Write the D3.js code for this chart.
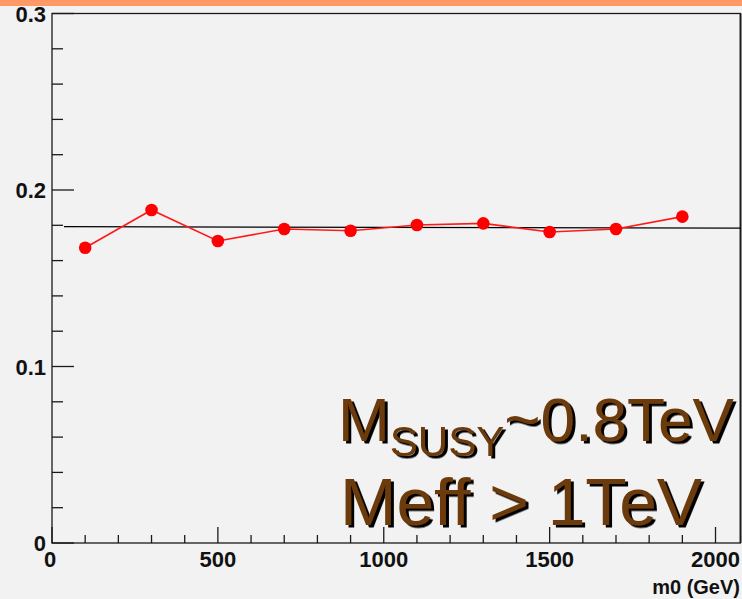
<!DOCTYPE html>
<html>
<head>
<meta charset="utf-8">
<script src="https://cdn.jsdelivr.net/npm/d3@7"></script>
<style>
  html, body { margin: 0; padding: 0; background: #f2f2f2; }
  svg { display: block; }
</style>
</head>
<body>
<script>
// ---- data ----
const m0Values = [100, 300, 500, 700, 900, 1100, 1300, 1500, 1700, 1900];
const ratioValues = [0.1673, 0.1887, 0.1711, 0.1779, 0.1769, 0.1802, 0.1811, 0.1762, 0.1779, 0.1849];
const fitX = [36, 2075];
const fitY = [0.1792, 0.1784];
const xTickLabels = [0, 500, 1000, 1500, 2000];
const yTickLabels = [0, 0.1, 0.2, 0.3];
const xDomain = [0, 2075];
const yDomain = [0, 0.3];

const W = 742, H = 599;
const L = 52, R = 740.4, T = 13.5, B = 543;

const svg = d3.select("body").append("svg").attr("width", W).attr("height", H);
svg.append("rect").attr("width", W).attr("height", H).attr("fill", "#f2f2f2");

const defs = svg.append("defs");
const f = defs.append("filter").attr("id", "shadow")
  .attr("x", "-5%").attr("y", "-5%").attr("width", "115%").attr("height", "120%");
f.append("feDropShadow").attr("dx", 3).attr("dy", 2.5).attr("stdDeviation", 0.3)
  .attr("flood-color", "#000").attr("flood-opacity", 1);

const x = d3.scaleLinear().domain(xDomain).range([L, R]);
const y = d3.scaleLinear().domain(yDomain).range([B, T]);

// frame
svg.append("rect").attr("x", R - 1).attr("y", T).attr("width", 2.6).attr("height", B - T)
  .attr("fill", "#8a8a8a");
svg.append("rect").attr("x", L).attr("y", T).attr("width", R - L).attr("height", B - T)
  .attr("fill", "none").attr("stroke", "#1a1a1a").attr("stroke-width", 1.3);

// axes ticks
const xMajor = d3.range(0, 2001, 500);
const xMinor = d3.range(0, 2075, 100).filter(v => v % 500 !== 0);
const yMajor = d3.range(0, 0.301, 0.1);
const yMinor = d3.range(0.02, 0.3, 0.02).filter(v => Math.abs(v * 10 - Math.round(v * 10)) > 1e-6);

const g = svg.append("g").attr("stroke", "#1a1a1a").attr("stroke-width", 1.3);
g.selectAll(".xM").data(xMajor).join("line")
  .attr("x1", d => x(d)).attr("x2", d => x(d)).attr("y1", B).attr("y2", B - 16);
g.selectAll(".xm").data(xMinor).join("line")
  .attr("x1", d => x(d)).attr("x2", d => x(d)).attr("y1", B).attr("y2", B - 8);
g.selectAll(".yM").data(yMajor).join("line")
  .attr("x1", L).attr("x2", L + 22).attr("y1", d => y(d)).attr("y2", d => y(d));
g.selectAll(".ym").data(yMinor).join("line")
  .attr("x1", L).attr("x2", L + 11).attr("y1", d => y(d)).attr("y2", d => y(d));

// tick labels
const lblFont = "'Liberation Sans', Arial, sans-serif";
svg.selectAll(".xl").data(xTickLabels).join("text")
  .attr("x", d => x(d) - (d === 0 ? 2 : 0)).attr("y", 567)
  .attr("text-anchor", "middle").attr("font-family", lblFont).attr("font-weight", "bold")
  .attr("font-size", 22).attr("fill", "#111").text(d => d);
svg.selectAll(".yl").data(yTickLabels).join("text")
  .attr("x", 46).attr("y", d => y(d) + 8)
  .attr("text-anchor", "end").attr("font-family", lblFont).attr("font-weight", "bold")
  .attr("font-size", 22).attr("fill", "#111").text(d => d === 0 ? "0" : d.toFixed(1));
svg.append("text").attr("x", 740).attr("y", 594).attr("text-anchor", "end")
  .attr("font-family", lblFont).attr("font-weight", "bold").attr("font-size", 20)
  .attr("fill", "#111").text("m0 (GeV)");

// fit line
svg.append("line")
  .attr("x1", x(fitX[0])).attr("x2", x(fitX[1]))
  .attr("y1", y(fitY[0])).attr("y2", y(fitY[1]))
  .attr("stroke", "#000").attr("stroke-width", 1.2);

// data line and markers
const pts = m0Values.map((v, i) => [v, ratioValues[i]]);
svg.append("path").datum(pts)
  .attr("d", d3.line().x(d => x(d[0])).y(d => y(d[1])))
  .attr("fill", "none").attr("stroke", "#ff1a1a").attr("stroke-width", 1.6);
svg.selectAll(".pt").data(pts).join("circle")
  .attr("cx", d => x(d[0])).attr("cy", d => y(d[1])).attr("r", 6.3)
  .attr("fill", "#ff0000");

// annotation text (brown with black shadow)
const annFont = "'Liberation Sans', Arial, sans-serif";
const brown = "#6c3a08";
const t1 = svg.append("text").attr("x", 338).attr("y", 441)
  .attr("font-family", annFont).attr("font-size", 62).attr("fill", brown)
  .attr("filter", "url(#shadow)")
  .attr("textLength", 396).attr("lengthAdjust", "spacingAndGlyphs");
t1.append("tspan").text("M");
t1.append("tspan").attr("dy", 15).attr("font-size", 42).text("SUSY");
t1.append("tspan").attr("dy", -15).text("~0.8TeV");

svg.append("text").attr("x", 340).attr("y", 525)
  .attr("font-family", annFont).attr("font-size", 66).attr("fill", brown)
  .attr("filter", "url(#shadow)")
  .attr("textLength", 362).attr("lengthAdjust", "spacingAndGlyphs")
  .text("Meff > 1TeV");

// top orange strip (banner of the slide)
svg.append("rect").attr("x", 0).attr("y", 0).attr("width", W).attr("height", 6).attr("fill", "#ff9a66");
</script>
</body>
</html>
